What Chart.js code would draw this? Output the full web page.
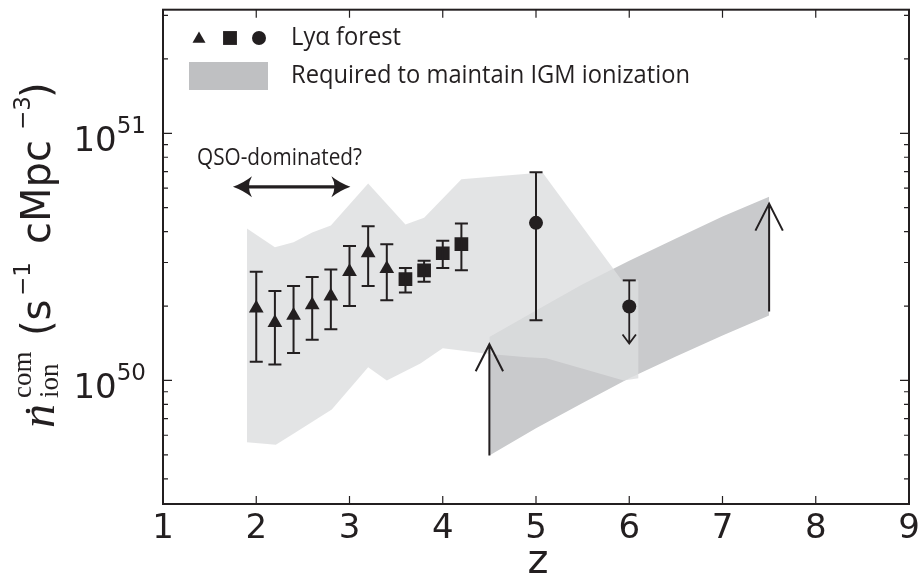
<!DOCTYPE html>
<html lang="en">
<head>
    <meta charset="UTF-8">
    <title>Ionizing emissivity vs redshift</title>
    <script src="https://cdn.jsdelivr.net/npm/chart.js"></script>
    <style>
        body { margin: 0; background: #fff; }
        canvas { display: block; }
    </style>
</head>
<body>
    <canvas id="chart" width="922" height="580"></canvas>

    <script>
        // Ly-alpha forest measurements (triangles, squares, circles)
        const triZ   = [2.0, 2.2, 2.4, 2.6, 2.8, 3.0, 3.2, 3.4];
        const triVal = [1.96e50, 1.71e50, 1.83e50, 2.02e50, 2.19e50, 2.75e50, 3.28e50, 2.83e50];
        const triLo  = [1.19e50, 1.16e50, 1.29e50, 1.46e50, 1.61e50, 2.00e50, 2.41e50, 2.11e50];
        const triHi  = [2.75e50, 2.30e50, 2.41e50, 2.62e50, 2.81e50, 3.50e50, 4.21e50, 3.56e50];

        const sqZ   = [3.6, 3.8, 4.0, 4.2];
        const sqVal = [2.57e50, 2.79e50, 3.27e50, 3.56e50];
        const sqLo  = [2.27e50, 2.51e50, 2.85e50, 2.79e50];
        const sqHi  = [2.85e50, 3.05e50, 3.67e50, 4.31e50];

        const circZ   = [5.0, 6.0];
        const circVal = [4.34e50, 1.99e50];
        const circLo  = [1.75e50, null];      // z=6 is an upper limit
        const circHi  = [6.96e50, 2.54e50];
        const limitZ = 6.0, limitTo = 1.41e50;

        // light grey envelope
        const envTopZ = [1.9, 2.2, 2.4, 2.6, 2.8, 3.2, 3.6, 3.8, 4.2, 5.07, 5.92, 6.1];
        const envTop  = [4.12e50, 3.46e50, 3.62e50, 3.97e50, 4.23e50, 6.27e50, 4.27e50, 4.55e50, 6.51e50, 6.94e50, 2.54e50, 2.54e50];
        const envLowZ = [1.9, 2.21, 2.42, 2.81, 3.2, 3.4, 3.76, 4.0, 4.5, 4.9, 5.11, 5.94, 6.1];
        const envLow  = [5.62e49, 5.49e49, 6.16e49, 7.63e49, 1.13e50, 1.0e50, 1.17e50, 1.35e50, 1.28e50, 1.24e50, 1.23e50, 1.0e50, 1.02e50];

        // required to maintain IGM ionization (darker band)
        const reqZ  = [4.5, 5.0, 5.5, 6.0, 6.5, 7.0, 7.5];
        const reqHi = [1.50e50, 1.92e50, 2.45e50, 3.05e50, 3.75e50, 4.6e50, 5.53e50];
        const reqLo = [4.97e49, 6.4e49, 8.1e49, 1.02e50, 1.25e50, 1.52e50, 1.83e50];

        // lower-limit arrows on the band edges
        const arrowZ    = [4.5, 7.5];
        const arrowFrom = [4.97e49, 1.90e50];
        const arrowTo   = [1.40e50, 5.19e50];

        // QSO-dominated double arrow
        const qsoZ = [1.75, 3.01];
        const qsoY = 6.07e50;

        // axes
        const xTicks = [1, 2, 3, 4, 5, 6, 7, 8, 9];
        const yMajor = [1e50, 1e51];
        const yMajorExp = ['50', '51'];
        const yMinor = [4e49, 5e49, 6e49, 7e49, 8e49, 9e49, 2e50, 3e50, 4e50, 5e50, 6e50, 7e50, 8e50, 9e50, 2e51, 3e51];

        const ink = '#231f20';
        const pts = (xs, ys) => xs.map((x, i) => ({ x: x, y: ys[i] }));

        function fitText(ctx, text, x, y, size, width) {
            ctx.save();
            ctx.font = size + 'px "Open Sans"';
            const w = ctx.measureText(text).width;
            ctx.translate(x, y);
            ctx.scale(width / w, 1);
            ctx.textAlign = 'left';
            ctx.textBaseline = 'alphabetic';
            ctx.fillText(text, 0, 0);
            ctx.restore();
        }

        function upArrow(ctx, x, y0, y1, dx, dy, lw) {
            ctx.lineWidth = lw;
            ctx.beginPath();
            ctx.moveTo(x, y0); ctx.lineTo(x, y1);
            const s = y1 < y0 ? 1 : -1;
            ctx.moveTo(x - dx, y1 + s * dy); ctx.lineTo(x, y1); ctx.lineTo(x + dx, y1 + s * dy);
            ctx.stroke();
        }

        const decorations = {
            id: 'decorations',
            afterDraw(chart) {
                const ctx = chart.ctx;
                const xs = chart.scales.x, ys = chart.scales.y;
                const a = chart.chartArea;
                const X = v => xs.getPixelForValue(v), Y = v => ys.getPixelForValue(v);
                ctx.save();
                ctx.strokeStyle = ink;
                ctx.fillStyle = ink;
                ctx.lineCap = 'butt';

                // error bars
                const bar = (zs, lo, hi) => {
                    zs.forEach((z, i) => {
                        const x = X(z);
                        ctx.lineWidth = 2;
                        ctx.beginPath();
                        if (lo[i] !== null) {
                            ctx.moveTo(x, Y(lo[i])); ctx.lineTo(x, Y(hi[i]));
                            ctx.moveTo(x - 6.5, Y(lo[i])); ctx.lineTo(x + 6.5, Y(lo[i]));
                        }
                        ctx.moveTo(x - 6.5, Y(hi[i])); ctx.lineTo(x + 6.5, Y(hi[i]));
                        ctx.stroke();
                    });
                };
                bar(triZ, triLo, triHi);
                bar(sqZ, sqLo, sqHi);
                bar(circZ, circLo, circHi);

                // upper limit at z=6
                const li = circZ.indexOf(limitZ);
                upArrow(ctx, X(limitZ), Y(circHi[li]), Y(limitTo), 6.7, 9, 1.8);

                // lower-limit arrows
                arrowZ.forEach((z, i) => upArrow(ctx, X(z), Y(arrowFrom[i]), Y(arrowTo[i]), 13.7, 27, 2));

                // QSO-dominated arrow
                const qy = Y(qsoY), q0 = X(qsoZ[0]), q1 = X(qsoZ[1]);
                ctx.lineWidth = 3.3;
                ctx.beginPath(); ctx.moveTo(q0 + 8, qy); ctx.lineTo(q1 - 8, qy); ctx.stroke();
                [[q0, 1], [q1, -1]].forEach(([t, s]) => {
                    ctx.beginPath();
                    ctx.moveTo(t, qy);
                    ctx.quadraticCurveTo(t + s * 11, qy - 4, t + s * 19, qy - 10.5);
                    ctx.quadraticCurveTo(t + s * 13, qy, t + s * 19, qy + 10.5);
                    ctx.quadraticCurveTo(t + s * 11, qy + 4, t, qy);
                    ctx.fill();
                });
                fitText(ctx, 'QSO-dominated?', 197, 165, 23.5, 165);

                // legend
                const H = Chart.helpers;
                H.drawPoint(ctx, { pointStyle: 'triangle', radius: 7.5, borderWidth: 0 }, 199, 39);
                H.drawPoint(ctx, { pointStyle: 'rect', radius: 9.8, borderWidth: 0 }, 230, 38);
                H.drawPoint(ctx, { pointStyle: 'circle', radius: 7, borderWidth: 0 }, 259, 38);
                fitText(ctx, 'Ly\u03b1 forest', 291, 45, 25, 110);
                ctx.fillStyle = '#bfc0c2';
                ctx.fillRect(189, 62, 79, 28);
                ctx.fillStyle = ink;
                fitText(ctx, 'Required to maintain IGM ionization', 291, 83, 25, 399);

                // frame
                ctx.lineWidth = 2;
                ctx.strokeRect(a.left, a.top, a.right - a.left, a.bottom - a.top);

                // ticks pointing inward
                ctx.lineWidth = 1.2;
                ctx.beginPath();
                xTicks.forEach(v => {
                    const x = X(v);
                    ctx.moveTo(x, a.bottom); ctx.lineTo(x, a.bottom - 8);
                    ctx.moveTo(x, a.top); ctx.lineTo(x, a.top + 8);
                });
                yMajor.forEach(v => {
                    const y = Y(v);
                    ctx.moveTo(a.left, y); ctx.lineTo(a.left + 9, y);
                    ctx.moveTo(a.right, y); ctx.lineTo(a.right - 9, y);
                });
                yMinor.forEach(v => {
                    const y = Y(v);
                    ctx.moveTo(a.left, y); ctx.lineTo(a.left + 5, y);
                    ctx.moveTo(a.right, y); ctx.lineTo(a.right - 5, y);
                });
                ctx.stroke();

                // tick labels
                ctx.textBaseline = 'alphabetic';
                ctx.textAlign = 'center';
                ctx.font = '34px "DejaVu Sans"';
                xTicks.forEach(v => ctx.fillText(String(v), X(v), 538));
                yMajor.forEach((v, i) => {
                    const y = Y(v);
                    ctx.font = '23px "DejaVu Sans"';
                    const ws = ctx.measureText(yMajorExp[i]).width;
                    ctx.font = '34px "DejaVu Sans"';
                    const wb = ctx.measureText('10').width;
                    const right = 146;
                    ctx.textAlign = 'left';
                    ctx.fillText('10', right - ws - wb, y + 17.5);
                    ctx.font = '23px "DejaVu Sans"';
                    ctx.fillText(yMajorExp[i], right - ws, y - 0.5);
                });

                // x label
                ctx.textAlign = 'center';
                ctx.font = '40px "DejaVu Sans"';
                ctx.fillText('z', (a.left + a.right) / 2 + 2, 573);

                // y label (rotated)
                ctx.save();
                ctx.rotate(-Math.PI / 2);
                ctx.textAlign = 'left';
                const rt = (t, f, yy, xx) => { ctx.font = f; ctx.fillText(t, -yy, xx); };
                rt('n', 'italic 48px "Liberation Serif"', 428, 54);
                rt('com', '27px "Liberation Serif"', 398, 31);
                rt('ion', '27px "Liberation Serif"', 398, 58);
                rt('(s', '40px "DejaVu Sans"', 336, 50);
                rt('\u22121', '23px "DejaVu Sans"', 296, 30);
                rt('cMpc', '40px "DejaVu Sans"', 244, 50);
                rt('\u22123', '23px "DejaVu Sans"', 130, 30);
                rt(')', '40px "DejaVu Sans"', 98, 50);
                ctx.restore();
                ctx.beginPath();
                ctx.arc(28, 411, 2.3, 0, Math.PI * 2);
                ctx.fill();

                ctx.restore();
            }
        };

        const band = (xs, ys, color, fill, order) => ({
            type: 'line', data: pts(xs, ys), fill: fill, backgroundColor: color,
            borderWidth: 0, pointRadius: 0, tension: 0, order: order
        });
        const marks = (xs, ys, style, r) => ({
            type: 'scatter', data: pts(xs, ys), pointStyle: style, pointRadius: r,
            backgroundColor: ink, borderWidth: 0, order: 1
        });

        new Chart(document.getElementById('chart'), {
            type: 'scatter',
            data: {
                datasets: [
                    band(envTopZ, envTop, 'rgba(220,221,223,0.8)', '+1', 2),
                    band(envLowZ, envLow, 'rgba(220,221,223,0.8)', false, 2),
                    band(reqZ, reqHi, '#c9cacc', '+1', 3),
                    band(reqZ, reqLo, '#c9cacc', false, 3),
                    marks(triZ, triVal, 'triangle', 8.5),
                    marks(sqZ, sqVal, 'rect', 9.7),
                    marks(circZ, circVal, 'circle', 7)
                ]
            },
            options: {
                responsive: false,
                animation: false,
                events: [],
                layout: { padding: { left: 163, right: 13, top: 1, bottom: 76 } },
                plugins: { legend: { display: false }, tooltip: { enabled: false } },
                scales: {
                    x: { type: 'linear', min: 1, max: 9, display: false },
                    y: { type: 'logarithmic', min: Math.pow(10, 49.5), max: Math.pow(10, 51.5), display: false }
                }
            },
            plugins: [decorations]
        });
    </script>
</body>
</html>
